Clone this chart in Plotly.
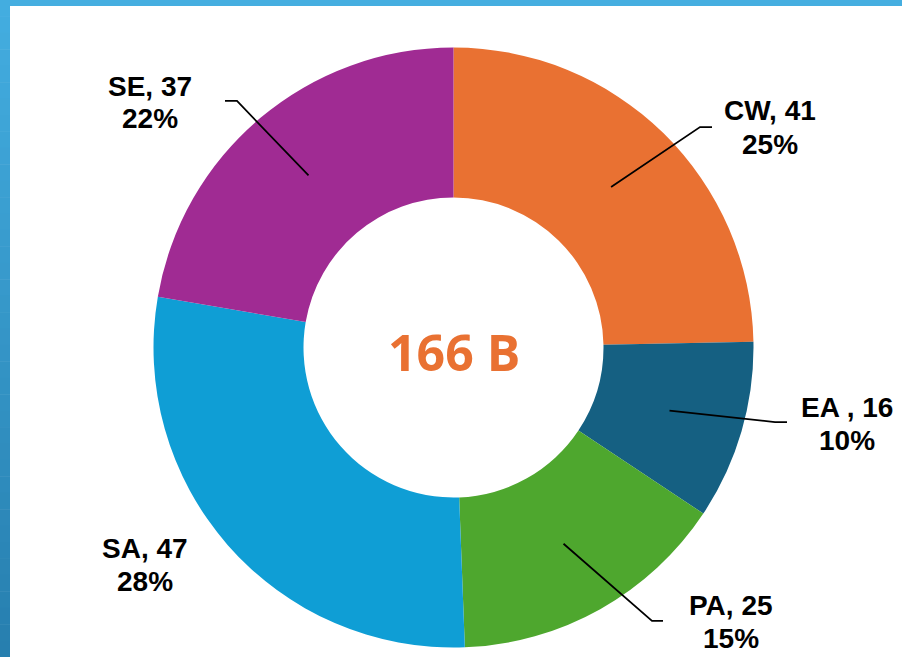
import math
import plotly.graph_objects as go

# ---- data ----
labels = ["CW", "EA", "PA", "SA", "SE"]
label_text = ["CW, 41", "EA , 16", "PA, 25", "SA, 47", "SE, 37"]
values = [41, 16, 25, 47, 37]
percents = ["25%", "10%", "15%", "28%", "22%"]
colors = ["#E97132", "#156082", "#4EA72E", "#0F9ED5", "#A02B93"]
unit = "B"

# ---- layout (pixels) ----
W, H = 902, 657
CX, CY, R = 453.5, 347.5, 300.0
HOLE = 0.5

def px(x):
    return x / W

def py(y):
    return 1 - y / H

# label centres (x, line1 y, line2 y) and leader elbow / end points
label_pos = {
    "CW": (770, 110, 143),
    "EA": (847, 406, 439),
    "PA": (731, 604, 637),
    "SA": (145, 547, 580),
    "SE": (150, 85, 118),
}
leader_pts = {
    "CW": [(700, 127), (712, 127)],
    "EA": [(775, 422), (787, 422)],
    "PA": [(652, 621), (663, 621)],
    "SE": [(237, 101), (225, 101)],
}

fig = go.Figure(go.Pie(
    labels=labels, values=values, sort=False, direction="clockwise", rotation=0,
    hole=HOLE, marker=dict(colors=colors, line=dict(width=0)),
    textinfo="none", hoverinfo="label+value+percent", showlegend=False,
    domain=dict(x=[px(CX - R), px(CX + R)], y=[py(CY + R), py(CY - R)]),
))

shapes = []
# top strip
shapes.append(dict(type="rect", xref="paper", yref="paper", x0=0, x1=1, y0=py(6), y1=1,
                   fillcolor="#45AEE0", line=dict(width=0), layer="above"))
# left strip gradient
n = 40
c0 = (0x43, 0xAD, 0xE0)
c1 = (0x27, 0x7F, 0xAF)
for i in range(n):
    t = i / (n - 1)
    c = tuple(int(round(c0[k] + (c1[k] - c0[k]) * t)) for k in range(3))
    y0 = H * i / n
    y1 = H * (i + 1) / n
    shapes.append(dict(type="rect", xref="paper", yref="paper", x0=0, x1=px(10),
                       y0=py(y1 + 0.5), y1=py(y0), fillcolor="rgb(%d,%d,%d)" % c,
                       line=dict(width=0), layer="above"))

# leader lines from mid-ring at the mid angle of each slice
total = sum(values)
cum = 0
annotations = []
for lab, txt, v, pct in zip(labels, label_text, values, percents):
    mid = (cum + v / 2) / total * 2 * math.pi
    cum += v
    rm = R * (1 + HOLE) / 2
    sx = CX + rm * math.sin(mid)
    sy = CY - rm * math.cos(mid)
    if lab in leader_pts:
        pts = [(sx, sy)] + leader_pts[lab]
        path = "M " + " L ".join("%f,%f" % (px(x), py(y)) for x, y in pts)
        shapes.append(dict(type="path", xref="paper", yref="paper", path=path,
                           line=dict(color="black", width=1.75)))
    lx, l1, l2 = label_pos[lab]
    for text, yy in ((txt, l1), (pct, l2)):
        annotations.append(dict(x=px(lx), y=py(yy + 1), xref="paper", yref="paper",
                                text="<b>%s</b>" % text, showarrow=False,
                                xanchor="center", yanchor="middle",
                                font=dict(family="Liberation Sans, Arial", size=28, color="black")))

annotations.append(dict(x=px(CX), y=py(352), xref="paper", yref="paper",
                        text="<b>%d %s</b>" % (total, unit), showarrow=False,
                        xanchor="center", yanchor="middle",
                        font=dict(family="Open Sans", size=50, color="#E97132")))

fig.update_layout(width=W, height=H, margin=dict(l=0, r=0, t=0, b=0),
                  paper_bgcolor="white", plot_bgcolor="white",
                  shapes=shapes, annotations=annotations)

fig.write_html("out.html", config={"displayModeBar": False},
               post_script="document.body.style.margin='0';document.body.style.overflow='hidden';")
